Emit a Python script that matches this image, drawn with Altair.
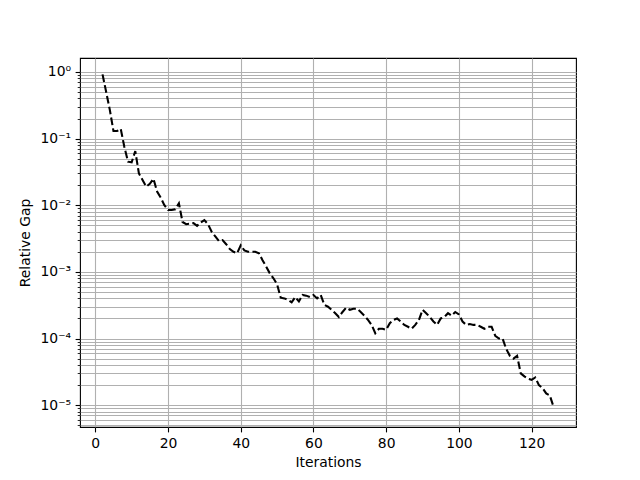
import altair as alt
import pandas as pd

iterations = list(range(2, 127))
relative_gap = [
    0.92, 0.5, 0.27, 0.13, 0.13, 0.14, 0.075, 0.045, 0.044, 0.065,
    0.03, 0.024, 0.019, 0.021, 0.025, 0.016, 0.013, 0.01, 0.0085, 0.0085,
    0.0087, 0.0107, 0.0056, 0.0052, 0.0053, 0.0054, 0.0049, 0.0055, 0.006, 0.0052,
    0.004, 0.0034, 0.0029, 0.003, 0.0026, 0.0022, 0.002, 0.0019, 0.0025, 0.0021,
    0.002, 0.002, 0.002, 0.0019, 0.0015, 0.0012, 0.00095, 0.0008, 0.00065, 0.00041,
    0.0004, 0.00038, 0.00035, 0.00042, 0.00036, 0.00045, 0.00044, 0.00042, 0.00045, 0.0004,
    0.00045, 0.00032, 0.0003, 0.00027, 0.00024, 0.00021, 0.00025, 0.00029, 0.00027, 0.00028,
    0.00028, 0.00025, 0.00022, 0.00019, 0.00016, 0.00012, 0.00014, 0.00014, 0.000135, 0.00017,
    0.00019, 0.0002, 0.00018, 0.00016, 0.00015, 0.00014, 0.00016, 0.00019, 0.00027, 0.00024,
    0.00021, 0.00018, 0.00016, 0.0002, 0.00021, 0.00024, 0.00022, 0.00025, 0.00023, 0.00018,
    0.00016, 0.000165, 0.00016, 0.00016, 0.00015, 0.00014, 0.00015, 0.00015, 0.00011, 0.0001,
    0.0001, 0.00007, 0.000055, 0.00005, 0.000055, 0.00003, 0.000027, 0.000025, 0.000024, 0.000026,
    0.00002, 0.000018, 0.000015, 0.000014, 0.0000095,
]

x_ticks = [0, 20, 40, 60, 80, 100, 120]
y_major = [1, 0.1, 0.01, 0.001, 0.0001, 0.00001]
y_min, y_max = 4.7e-6, 1.62
y_ticks = sorted(
    set(y_major)
    | {m * d for d in y_major + [0.000001] for m in range(2, 10) if y_min <= m * d <= y_max}
)

df = pd.DataFrame({"Iterations": iterations, "Relative Gap": relative_gap})

is_major = "abs(log(datum.value)/LN10 - round(log(datum.value)/LN10)) < 0.001"
label_expr = (
    f"({is_major}) ? (datum.value > 0.5 ? '10⁰' : datum.value > 0.05 ? '10⁻¹' : "
    "datum.value > 0.005 ? '10⁻²' : datum.value > 0.0005 ? '10⁻³' : "
    "datum.value > 0.00005 ? '10⁻⁴' : '10⁻⁵') : ''"
)

chart = (
    alt.Chart(df)
    .mark_line(color="black", strokeWidth=2.08, strokeDash=[7.7, 3.3], clip=True)
    .encode(
        x=alt.X(
            "Iterations:Q",
            scale=alt.Scale(domain=[-4.2, 132.2], nice=False, zero=False),
            axis=alt.Axis(values=x_ticks, title="Iterations", format="d",
                          titlePadding=5),
        ),
        y=alt.Y(
            "Relative Gap:Q",
            scale=alt.Scale(type="log", domain=[y_min, y_max], nice=False),
            axis=alt.Axis(
                values=y_ticks,
                labelExpr=label_expr,
                title="Relative Gap",
                titlePadding=8,
                tickSize={"condition": {"test": is_major, "value": 4.9}, "value": 2.8},
                tickWidth={"condition": {"test": is_major, "value": 1.1}, "value": 0.83},
            ),
        ),
    )
    .properties(
        width=496,
        height=369,
        autosize=alt.AutoSizeParams(type="none"),
        padding={"left": 72, "top": 50, "right": 56, "bottom": 45},
    )
    .configure_view(stroke="black", strokeWidth=1.1)
    .configure_axis(
        labelFont="DejaVu Sans",
        labelFontSize=13.9,
        labelColor="black",
        titleFont="DejaVu Sans",
        titleFontSize=13.9,
        titleFontWeight="normal",
        titleColor="black",
        tickColor="black",
        tickSize=4.9,
        tickWidth=1.1,
        labelPadding=4.5,
        domain=False,
        grid=True,
        gridColor="#b0b0b0",
        gridWidth=1.1,
    )
)

chart.save("out.html", embed_options={"renderer": "svg", "actions": False})
